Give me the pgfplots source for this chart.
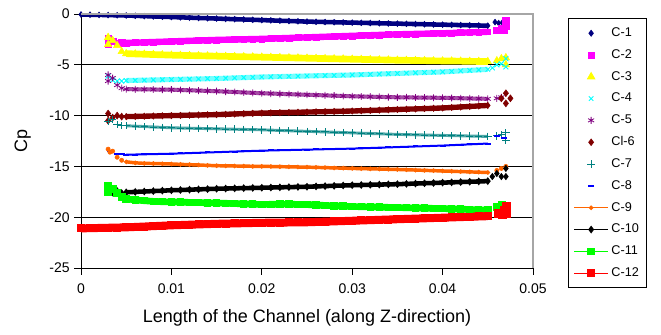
\documentclass[border=0pt]{standalone}
\usepackage{pgfplots}
\pgfplotsset{compat=1.18}
\usepackage{pgfplotstable}
\usepackage{fontspec}
\setmainfont{Liberation Sans}

\definecolor{cnavy}{RGB}{0,0,128}
\definecolor{cmag}{RGB}{255,0,255}
\definecolor{cyel}{RGB}{255,255,0}
\definecolor{ccyan}{RGB}{0,255,255}
\definecolor{cpurp}{RGB}{128,0,128}
\definecolor{cmar}{RGB}{128,0,0}
\definecolor{cteal}{RGB}{0,128,128}
\definecolor{cblue}{RGB}{0,0,255}
\definecolor{corange}{RGB}{255,102,0}
\definecolor{cgreen}{RGB}{0,255,0}
\definecolor{cred}{RGB}{255,0,0}

\pgfplotstableread{
x c1 c12
0.000 -0.05 -21.10
0.001 -0.07 -21.08
0.002 -0.09 -21.06
0.003 -0.11 -21.04
0.004 -0.13 -21.02
0.005 -0.15 -21.00
0.006 -0.18 -20.96
0.007 -0.21 -20.92
0.008 -0.24 -20.88
0.009 -0.27 -20.84
0.010 -0.30 -20.80
0.011 -0.33 -20.77
0.012 -0.36 -20.74
0.013 -0.39 -20.71
0.014 -0.42 -20.68
0.015 -0.45 -20.65
0.016 -0.48 -20.63
0.017 -0.51 -20.61
0.018 -0.54 -20.59
0.019 -0.57 -20.57
0.020 -0.60 -20.55
0.021 -0.63 -20.54
0.022 -0.66 -20.53
0.023 -0.69 -20.52
0.024 -0.72 -20.51
0.025 -0.75 -20.50
0.026 -0.77 -20.47
0.027 -0.79 -20.44
0.028 -0.81 -20.41
0.029 -0.83 -20.38
0.030 -0.85 -20.35
0.031 -0.87 -20.32
0.032 -0.89 -20.29
0.033 -0.91 -20.26
0.034 -0.93 -20.23
0.035 -0.95 -20.20
0.036 -0.97 -20.17
0.037 -0.99 -20.14
0.038 -1.01 -20.11
0.039 -1.03 -20.08
0.040 -1.05 -20.05
0.041 -1.07 -20.02
0.042 -1.09 -19.99
0.043 -1.11 -19.96
0.044 -1.13 -19.93
0.045 -1.15 -19.90
}\tabA

\pgfplotstableread{
x c2 c3 c4 c5 c6 c7 c8 c9 c10 c11
0.005 -2.85 -3.90 -6.55 -7.40 -10.10 -11.00 -13.85 -14.55 -17.55 -18.20
0.006 -2.82 -3.93 -6.53 -7.41 -10.08 -11.04 -13.83 -14.65 -17.51 -18.30
0.007 -2.79 -3.96 -6.51 -7.42 -10.06 -11.08 -13.81 -14.70 -17.47 -18.38
0.008 -2.76 -3.99 -6.49 -7.43 -10.04 -11.12 -13.79 -14.72 -17.43 -18.44
0.009 -2.73 -4.02 -6.47 -7.44 -10.02 -11.16 -13.77 -14.74 -17.39 -18.48
0.010 -2.70 -4.05 -6.45 -7.45 -10.00 -11.20 -13.75 -14.76 -17.35 -18.50
0.011 -2.67 -4.07 -6.43 -7.48 -9.98 -11.22 -13.72 -14.80 -17.32 -18.52
0.012 -2.64 -4.09 -6.41 -7.51 -9.96 -11.24 -13.69 -14.83 -17.29 -18.54
0.013 -2.61 -4.11 -6.39 -7.54 -9.94 -11.26 -13.66 -14.86 -17.26 -18.56
0.014 -2.58 -4.13 -6.37 -7.57 -9.92 -11.28 -13.63 -14.90 -17.23 -18.58
0.015 -2.55 -4.15 -6.35 -7.60 -9.90 -11.30 -13.60 -14.93 -17.20 -18.60
0.016 -2.53 -4.17 -6.32 -7.64 -9.87 -11.32 -13.57 -14.95 -17.18 -18.63
0.017 -2.51 -4.19 -6.29 -7.68 -9.84 -11.34 -13.54 -14.96 -17.16 -18.66
0.018 -2.49 -4.21 -6.26 -7.72 -9.81 -11.36 -13.51 -14.97 -17.14 -18.69
0.019 -2.47 -4.23 -6.23 -7.76 -9.78 -11.38 -13.48 -14.99 -17.12 -18.72
0.020 -2.45 -4.25 -6.20 -7.80 -9.75 -11.40 -13.45 -15.00 -17.10 -18.75
0.021 -2.42 -4.27 -6.18 -7.83 -9.73 -11.43 -13.43 -15.01 -17.08 -18.73
0.022 -2.39 -4.29 -6.16 -7.86 -9.71 -11.46 -13.41 -15.03 -17.06 -18.71
0.023 -2.36 -4.31 -6.14 -7.89 -9.69 -11.49 -13.39 -15.04 -17.04 -18.72
0.024 -2.33 -4.33 -6.12 -7.92 -9.67 -11.52 -13.37 -15.06 -17.02 -18.74
0.025 -2.30 -4.35 -6.10 -7.95 -9.65 -11.55 -13.35 -15.07 -17.00 -18.76
0.026 -2.27 -4.37 -6.08 -7.98 -9.63 -11.58 -13.33 -15.10 -16.97 -18.80
0.027 -2.24 -4.39 -6.06 -8.01 -9.61 -11.61 -13.31 -15.12 -16.94 -18.84
0.028 -2.21 -4.41 -6.04 -8.04 -9.59 -11.64 -13.29 -15.15 -16.91 -18.88
0.029 -2.18 -4.43 -6.02 -8.07 -9.57 -11.67 -13.27 -15.17 -16.88 -18.92
0.030 -2.15 -4.45 -6.00 -8.10 -9.55 -11.70 -13.25 -15.20 -16.85 -18.95
0.031 -2.12 -4.47 -5.97 -8.12 -9.52 -11.73 -13.22 -15.22 -16.83 -18.97
0.032 -2.09 -4.49 -5.94 -8.14 -9.49 -11.76 -13.19 -15.24 -16.81 -18.99
0.033 -2.06 -4.51 -5.91 -8.16 -9.46 -11.79 -13.16 -15.26 -16.79 -19.01
0.034 -2.03 -4.53 -5.88 -8.18 -9.43 -11.82 -13.13 -15.28 -16.77 -19.03
0.035 -2.00 -4.55 -5.85 -8.20 -9.40 -11.85 -13.10 -15.30 -16.75 -19.05
0.036 -1.98 -4.56 -5.82 -8.21 -9.37 -11.87 -13.07 -15.33 -16.72 -19.07
0.037 -1.96 -4.58 -5.79 -8.22 -9.34 -11.89 -13.04 -15.36 -16.69 -19.09
0.038 -1.94 -4.59 -5.76 -8.23 -9.31 -11.91 -13.01 -15.39 -16.66 -19.11
0.039 -1.92 -4.61 -5.73 -8.24 -9.28 -11.93 -12.98 -15.42 -16.63 -19.13
0.040 -1.90 -4.62 -5.70 -8.25 -9.25 -11.95 -12.95 -15.45 -16.60 -19.15
0.041 -1.87 -4.63 -5.65 -8.27 -9.20 -11.97 -12.91 -15.48 -16.57 -19.18
0.042 -1.84 -4.64 -5.60 -8.29 -9.15 -11.99 -12.87 -15.51 -16.54 -19.21
0.043 -1.81 -4.66 -5.55 -8.31 -9.10 -12.01 -12.83 -15.54 -16.51 -19.24
0.044 -1.78 -4.67 -5.50 -8.33 -9.05 -12.03 -12.79 -15.57 -16.48 -19.27
0.045 -1.75 -4.68 -5.45 -8.35 -9.00 -12.05 -12.75 -15.60 -16.45 -19.30
}\tabB

\begin{document}
\begin{tikzpicture}
\begin{axis}[
  name=ax,
  scale only axis, width=339pt, height=190.5pt,
  xmin=0, xmax=0.05, ymin=-25, ymax=0,
  axis x line*=bottom, axis y line*=left,
  axis line style={black, line width=0.6pt},
  scaled x ticks=false, scaled y ticks=false,
  xtick={0,0.01,0.02,0.03,0.04,0.05},
  xticklabels={0,0.01,0.02,0.03,0.04,0.05},
  ytick={-25,-20,-15,-10,-5,0},
  yticklabels={-25,-20,-15,-10,-5,0},
  tick style={black, line width=0.6pt},
  major tick length=5pt,
  tick align=outside,
  ymajorgrids, grid style={black, line width=0.6pt},
  tick label style={font=\fontsize{10.5}{12}\selectfont},
  xticklabel style={yshift=-3pt},
  label style={font=\fontsize{13.5}{16}\selectfont},
  xlabel={Length of the Channel (along Z-direction)},
  xlabel style={yshift=-5pt},
  ylabel={Cp},
  ylabel style={yshift=7pt},
  legend style={at={(1.077,0.984)}, anchor=north west, draw=black, line width=0.6pt,
    font=\fontsize{9.5}{11}\selectfont, row sep=4.2pt, inner xsep=4pt, inner ysep=5pt},
  legend cell align=left,
  legend image code/.code={\draw[mark repeat=2,mark phase=2,#1] plot coordinates {(0cm,0cm) (0.45cm,0cm) (0.9cm,0cm)};},
  after end axis/.code={\draw[gray!70, line width=0.9pt] (rel axis cs:0,1) -- (rel axis cs:1,1) -- (rel axis cs:1,0);},
]
% C-1
\addplot[cnavy, line width=3.4pt, line join=round, forget plot] table[x=x,y=c1]{\tabA};
\addplot[cnavy, only marks, mark=diamond*, mark size=2.2pt] table[x=x,y=c1]{\tabA};
\addplot[cnavy, only marks, mark=diamond*, mark size=2.2pt, forget plot] coordinates {(0.0458,-0.8)(0.0462,-0.9)(0.0466,-0.85)};
% C-2
\addplot[cmag, line width=4.8pt, forget plot] table[x=x,y=c2]{\tabB};
\addplot[cmag, only marks, mark=square*, mark size=2.2pt] table[x=x,y=c2]{\tabB};
\addplot[cmag, only marks, mark=square*, mark size=2.4pt, forget plot] coordinates {(0.0030,-2.4)(0.0030,-3.0)(0.0035,-2.7)(0.0040,-2.9)(0.0045,-2.85)(0.0460,-1.6)(0.0465,-1.4)(0.0470,-0.6)(0.0470,-1.2)(0.0468,-1.6)};
% C-3
\addplot[cyel, line width=5pt, forget plot] table[x=x,y=c3]{\tabB};
\addplot[cyel, only marks, mark=triangle*, mark size=3.2pt] table[x=x,y=c3]{\tabB};
\addplot[cyel, only marks, mark=triangle*, mark size=3.2pt, forget plot] coordinates {(0.0030,-2.3)(0.0030,-3.0)(0.0035,-2.6)(0.0040,-3.1)(0.0045,-3.7)(0.0460,-4.6)(0.0465,-4.4)(0.0470,-4.3)(0.0470,-5.0)};
% C-4
\addplot[ccyan!55, line width=3.8pt, forget plot] table[x=x,y=c4]{\tabB};
\addplot[ccyan, only marks, mark=x, mark size=2.4pt, mark options={line width=0.7pt}] table[x=x,y=c4]{\tabB};
\addplot[ccyan, only marks, mark=x, mark size=2.6pt, mark options={line width=0.7pt}, forget plot] coordinates {(0.0030,-6.1)(0.0035,-6.5)(0.0040,-6.6)(0.0045,-6.6)(0.0455,-5.3)(0.0460,-5.0)(0.0465,-4.9)(0.0470,-4.4)(0.0470,-5.2)};
% C-5
\addplot[cpurp!70, line width=3pt, forget plot] table[x=x,y=c5]{\tabB};
\addplot[cpurp, only marks, mark=asterisk, mark size=2.6pt, mark options={line width=0.6pt}] table[x=x,y=c5]{\tabB};
\addplot[cpurp, only marks, mark=asterisk, mark size=2.6pt, mark options={line width=0.6pt}, forget plot] coordinates {(0.0030,-6.0)(0.0030,-6.6)(0.0035,-6.3)(0.0040,-7.0)(0.0045,-7.3)(0.0460,-8.3)(0.0465,-8.2)};
% C-6
\addplot[cmar, line width=4pt, forget plot] table[x=x,y=c6]{\tabB};
\addplot[cmar, only marks, mark=diamond*, mark size=2.4pt] table[x=x,y=c6]{\tabB};
\addplot[cmar, only marks, mark=diamond*, mark size=2.6pt, forget plot] coordinates {(0.0030,-9.8)(0.0030,-10.5)(0.0035,-10.2)(0.0040,-10.0)(0.0045,-10.1)(0.0465,-8.3)(0.0470,-7.8)(0.0470,-8.8)(0.0475,-8.3)};
% C-7
\addplot[cteal!70, line width=2.2pt, forget plot] table[x=x,y=c7]{\tabB};
\addplot[cteal, only marks, mark=+, mark size=2.8pt, mark options={line width=0.7pt}] table[x=x,y=c7]{\tabB};
\addplot[cteal, only marks, mark=+, mark size=2.8pt, mark options={line width=0.7pt}, forget plot] coordinates {(0.0030,-10.6)(0.0035,-10.4)(0.0040,-10.9)(0.0045,-11.0)(0.0460,-12.0)(0.0465,-11.9)(0.0470,-11.7)(0.0470,-12.4)};
% C-8
\addplot[cblue, line width=1.5pt, forget plot] table[x=x,y=c8]{\tabB};
\addplot[cblue, only marks, mark=-, mark size=2.2pt, mark options={line width=1.5pt}] table[x=x,y=c8]{\tabB};
\addplot[cblue, only marks, mark=-, mark size=2.2pt, mark options={line width=1.5pt}, forget plot] coordinates {(0.0032,-13.5)(0.0040,-13.8)(0.0045,-13.8)(0.0460,-12.0)(0.0468,-12.2)};
% C-9
\addplot[corange, line width=2.6pt, forget plot] table[x=x,y=c9]{\tabB};
\addplot[corange, line width=0.8pt, mark=*, mark size=1.3pt] table[x=x,y=c9]{\tabB};
\addplot[corange, only marks, mark=*, mark size=1.6pt, forget plot] coordinates {(0.0030,-13.3)(0.0032,-13.6)(0.0035,-13.5)(0.0040,-14.1)(0.0045,-14.4)(0.0460,-15.4)(0.0465,-15.2)(0.0470,-15.0)};
% C-10
\addplot[black, line width=3.4pt, forget plot] table[x=x,y=c10]{\tabB};
\addplot[black, line width=0.8pt, mark=diamond*, mark size=2.3pt] table[x=x,y=c10]{\tabB};
\addplot[black, only marks, mark=diamond*, mark size=2.4pt, forget plot] coordinates {(0.0030,-17.3)(0.0035,-17.6)(0.0040,-17.4)(0.0045,-17.6)(0.0455,-16.0)(0.0460,-15.7)(0.0465,-16.0)(0.0470,-15.2)(0.0470,-16.0)};
% C-11
\addplot[cgreen, line width=5pt, forget plot] table[x=x,y=c11]{\tabB};
\addplot[cgreen, line width=0.8pt, mark=square*, mark size=2.4pt] table[x=x,y=c11]{\tabB};
\addplot[cgreen, only marks, mark=square*, mark size=2.6pt, forget plot] coordinates {(0.0030,-16.9)(0.0030,-17.5)(0.0035,-17.2)(0.0040,-17.6)(0.0045,-18.0)(0.0460,-19.0)(0.0465,-18.8)};
% C-12
\addplot[cred, line width=6pt, forget plot] table[x=x,y=c12]{\tabA};
\addplot[cred, line width=0.8pt, mark=square*, mark size=2.6pt] table[x=x,y=c12]{\tabA};
\addplot[cred, only marks, mark=square*, mark size=3pt, forget plot] coordinates {(0.0462,-19.6)(0.0468,-19.3)(0.0470,-18.9)(0.0470,-19.6)(0.0466,-19.7)};
\legend{C-1,C-2,C-3,C-4,C-5,Cl-6,C-7,C-8,C-9,C-10,C-11,C-12}
\end{axis}
\pgfresetboundingbox
\path[use as bounding box] (ax.south west) ++(-60.75pt,-50.25pt) rectangle ++(495.75pt,251.25pt);
\end{tikzpicture}
\end{document}
